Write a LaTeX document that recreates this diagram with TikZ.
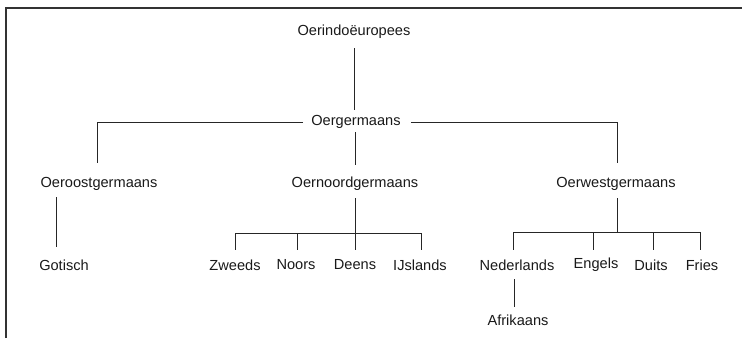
\documentclass[tikz,border=0pt]{standalone}
\usepackage{fontspec}
\setmainfont{Liberation Sans}
\usetikzlibrary{calc}
\begin{document}
\begin{tikzpicture}[x=1pt,y=-1pt,
  lang/.style={font=\fontsize{14.6pt}{16pt}\selectfont, inner sep=0pt, text=black!90},
  tree/.style={draw=black!85, line width=0.9pt},
  frame/.style={draw=black!80, line width=1.6pt}]
\useasboundingbox (0,0) rectangle (742,338);
% frame
\coordinate (fbl) at (6,338);
\coordinate (ftl) at (6,8);
\coordinate (ftr) at (742,8);
\draw[frame] (fbl) -- (ftl) -- (ftr);
% nodes
\node[lang] (ie) at (354,32) {Oerindoëuropees};
\node[lang] (og) at (356,122) {Oergermaans};
\node[lang] (oo) at (99,184) {Oeroostgermaans};
\node[lang] (on) at (355,184) {Oernoordgermaans};
\node[lang] (ow) at (616,184) {Oerwestgermaans};
\node[lang] (got) at (64,265) {Gotisch};
\node[lang] (zw) at (235,265) {Zweeds};
\node[lang] (no) at (296,265) {Noors};
\node[lang] (de) at (355,265) {Deens};
\node[lang] (ij) at (420,265) {IJslands};
\node[lang] (ned) at (517,265) {Nederlands};
\node[lang] (en) at (596,265) {Engels};
\node[lang] (du) at (651,265) {Duits};
\node[lang] (fr) at (702,265) {Fries};
\node[lang] (afr) at (518,320) {Afrikaans};
% connectors
\draw[tree] ($(ie)+(0,16)$) -- ($(ie|-og)+(0,-12)$);
\draw[tree] ($(og.west)+(-8,0)$) -| ($(oo)+(-2,-21)$);
\draw[tree] ($(og.east)+(10,0)$) -| ($(ow)+(1,-21)$);
\draw[tree] ($(on|-og)+(0,10)$) -- ($(on)+(0,-19)$);
\draw[tree] ($(oo)+(-43,13)$) -- ($(got)+(-8,-18)$);
% noord branch
\coordinate (nb) at ($(on)+(0,49)$);
\draw[tree] ($(on)+(0,14)$) -- (nb);
\draw[tree] (zw|-nb) -- ($(ij|-nb)+(1,0)$);
\draw[tree] (zw|-nb) -- ($(zw)+(0,-15)$);
\draw[tree] ($(no|-nb)+(1,0)$) -- ($(no)+(1,-15)$);
\draw[tree] (nb) -- ($(de)+(0,-15)$);
\draw[tree] ($(ij|-nb)+(1,0)$) -- ($(ij)+(1,-15)$);
% west branch
\coordinate (wb) at ($(ow)+(1,48)$);
\draw[tree] ($(ow)+(1,14)$) -- (wb);
\draw[tree] ($(ned|-wb)+(-4,0)$) -- ($(fr|-wb)+(-2,0)$);
\draw[tree] ($(ned|-wb)+(-4,0)$) -- ($(ned)+(-4,-15)$);
\draw[tree] ($(en|-wb)+(-3,0)$) -- ($(en)+(-3,-15)$);
\draw[tree] ($(du|-wb)+(2,0)$) -- ($(du)+(2,-15)$);
\draw[tree] ($(fr|-wb)+(-2,0)$) -- ($(fr)+(-2,-15)$);
\draw[tree] ($(ned)+(-3,14)$) -- ($(ned|-afr)+(-3,-13)$);
\end{tikzpicture}
\end{document}
